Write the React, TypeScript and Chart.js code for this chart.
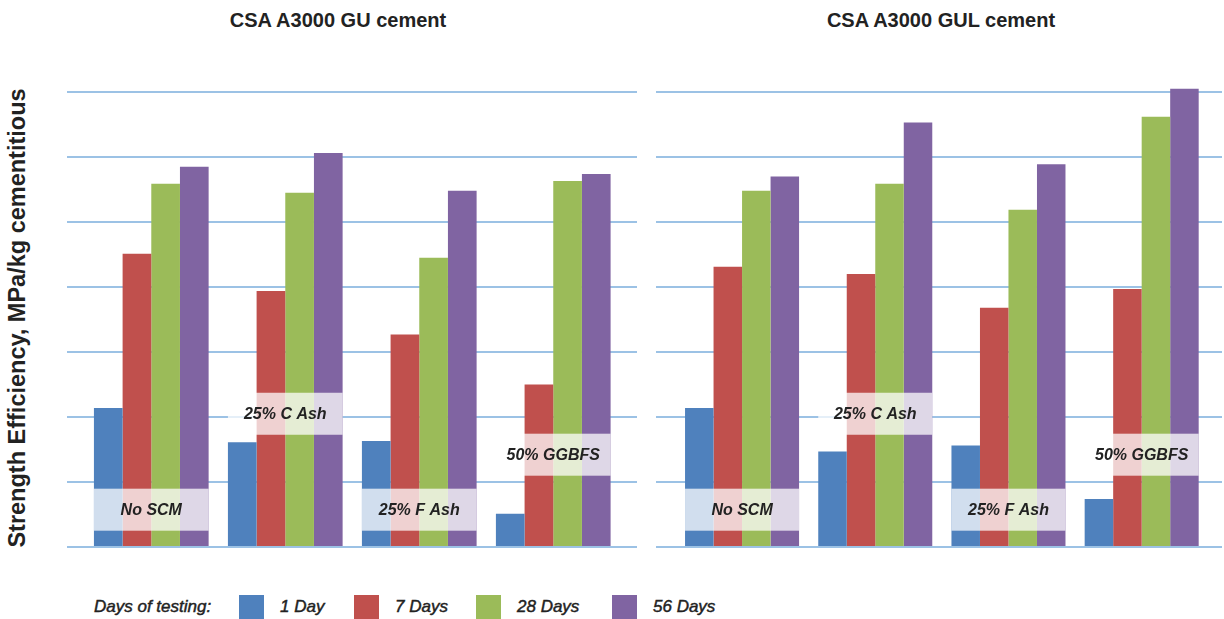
import React, { useEffect, useRef } from 'react';
import { Chart, registerables } from 'chart.js';

Chart.register(...registerables);

const FONT = "'Liberation Sans', Arial, Helvetica, sans-serif";

// ---- data ----
const categories = ['No SCM', '25% C Ash', '25% F Ash', '50% GGBFS'];
const seriesLabels = ['1 Day', '7 Days', '28 Days', '56 Days'];
const panelTitles = ['CSA A3000 GU cement', 'CSA A3000 GUL cement'];
const yAxisTitle = 'Strength Efficiency, MPa/kg cementitious';
const legendTitle = 'Days of testing:';

// CSA A3000 GU cement
const guDay1 = [2.14, 1.61, 1.63, 0.51];
const guDay7 = [4.51, 3.94, 3.27, 2.5];
const guDay28 = [5.59, 5.45, 4.45, 5.63];
const guDay56 = [5.85, 6.06, 5.48, 5.74];

// CSA A3000 GUL cement
const gulDay1 = [2.14, 1.47, 1.56, 0.74];
const gulDay7 = [4.31, 4.2, 3.68, 3.97];
const gulDay28 = [5.48, 5.59, 5.19, 6.62];
const gulDay56 = [5.7, 6.53, 5.89, 7.05];

// gridline levels (no tick labels shown)
const yTicks = [0, 1, 2, 3, 4, 5, 6, 7];

// ---- styles ----
const seriesColors = ['#4f81bd', '#c0504d', '#9bbb59', '#8064a2'];
const gridColor = '#9cc2e5';
const labelLevels = [0.574, 2.05, 0.574, 1.42];
const Y_MAX = 7.2;
const CAT_PCT = 0.856;

type PanelProps = {
  values: number[][];
  xMin: number;
  xMax: number;
  left: number;
  top: number;
  width: number;
  height: number;
};

function Panel({ values, xMin, xMax, left, top, width, height }: PanelProps) {
  const ref = useRef<HTMLCanvasElement>(null);
  useEffect(() => {
    if (!ref.current) return;
    const labelPlugin = {
      id: 'groupLabels',
      afterDatasetsDraw(chart: any) {
        const { ctx } = chart;
        const x = chart.scales.x;
        const y = chart.scales.y;
        ctx.save();
        categories.forEach((cat, i) => {
          const l = x.getPixelForValue(i - CAT_PCT / 2);
          const r = x.getPixelForValue(i + CAT_PCT / 2);
          const cy = y.getPixelForValue(labelLevels[i]);
          const h = 42;
          ctx.fillStyle = 'rgba(255,255,255,0.74)';
          ctx.fillRect(l, cy - h / 2, r - l, h);
          ctx.fillStyle = '#222222';
          ctx.font = `italic bold 16px ${FONT}`;
          ctx.textAlign = 'center';
          ctx.textBaseline = 'middle';
          ctx.fillText(cat, (l + r) / 2, cy + 1);
        });
        ctx.restore();
      },
    };
    const chart = new Chart(ref.current, {
      type: 'bar',
      data: {
        datasets: seriesLabels.map((s, k) => ({
          label: s,
          data: values[k].map((v, i) => ({ x: i, y: v })),
          backgroundColor: seriesColors[k],
          borderWidth: 0,
          barPercentage: 1,
          categoryPercentage: CAT_PCT,
        })),
      },
      options: {
        animation: false,
        responsive: false,
        layout: { padding: { top: 0, bottom: 3, left: 0, right: 0 } },
        plugins: {
          legend: { display: false },
          tooltip: { enabled: false },
          title: { display: false },
        },
        scales: {
          x: {
            type: 'linear',
            min: xMin,
            max: xMax,
            offset: false,
            display: false,
            afterBuildTicks: (s: any) => {
              s.ticks = categories.map((_, i) => ({ value: i }));
            },
          },
          y: {
            type: 'linear',
            min: 0,
            max: Y_MAX,
            display: true,
            border: { display: false },
            grid: { color: gridColor, lineWidth: 2, drawTicks: false },
            ticks: { display: false, stepSize: 1, includeBounds: false },
            afterBuildTicks: (s: any) => {
              s.ticks = yTicks.map((v) => ({ value: v }));
            },
          },
        },
      } as any,
      plugins: [labelPlugin],
    });
    return () => chart.destroy();
  }, []);
  return (
    <canvas
      ref={ref}
      width={width}
      height={height}
      style={{ position: 'absolute', left, top, width, height }}
    />
  );
}

export default function App() {
  const legendX = [239, 354, 476, 612];
  return (
    <div
      style={{
        position: 'absolute',
        left: 0,
        top: 0,
        width: 1224,
        height: 619,
        overflow: 'hidden',
        background: '#ffffff',
        fontFamily: FONT,
        color: '#222222',
      }}
    >
      <div
        style={{
          position: 'absolute',
          left: 138,
          top: 9,
          width: 400,
          textAlign: 'center',
          fontWeight: 'bold',
          fontSize: 20,
          lineHeight: '22px',
        }}
      >
        {panelTitles[0]}
      </div>
      <div
        style={{
          position: 'absolute',
          left: 741,
          top: 9,
          width: 400,
          textAlign: 'center',
          fontWeight: 'bold',
          fontSize: 20,
          lineHeight: '22px',
        }}
      >
        {panelTitles[1]}
      </div>
      <div
        style={{
          position: 'absolute',
          left: 16.5 - 260,
          top: 318 - 13,
          width: 520,
          height: 26,
          lineHeight: '26px',
          textAlign: 'center',
          fontWeight: 'bold',
          fontSize: 23.5,
          transform: 'rotate(-90deg)',
          whiteSpace: 'nowrap',
        }}
      >
        {yAxisTitle}
      </div>
      <Panel
        values={[guDay1, guDay7, guDay28, guDay56]}
        xMin={-0.629}
        xMax={3.625}
        left={67}
        top={79}
        width={570}
        height={471}
      />
      <Panel
        values={[gulDay1, gulDay7, gulDay28, gulDay56]}
        xMin={-0.646}
        xMax={3.603}
        left={656}
        top={79}
        width={566}
        height={471}
      />
      <div
        style={{
          position: 'absolute',
          left: 94,
          top: 596,
          fontStyle: 'italic',
          fontSize: 17,
          lineHeight: '22px',
          WebkitTextStroke: '0.45px #222222',
          whiteSpace: 'nowrap',
        }}
      >
        {legendTitle}
      </div>
      {seriesLabels.map((s, k) => (
        <React.Fragment key={s}>
          <div
            style={{
              position: 'absolute',
              left: legendX[k],
              top: 595,
              width: 25,
              height: 24,
              background: seriesColors[k],
            }}
          />
          <div
            style={{
              position: 'absolute',
              left: legendX[k] + 41,
              top: 596,
              fontStyle: 'italic',
              fontSize: 17,
              lineHeight: '22px',
              WebkitTextStroke: '0.45px #222222',
              whiteSpace: 'nowrap',
            }}
          >
            {s}
          </div>
        </React.Fragment>
      ))}
    </div>
  );
}
